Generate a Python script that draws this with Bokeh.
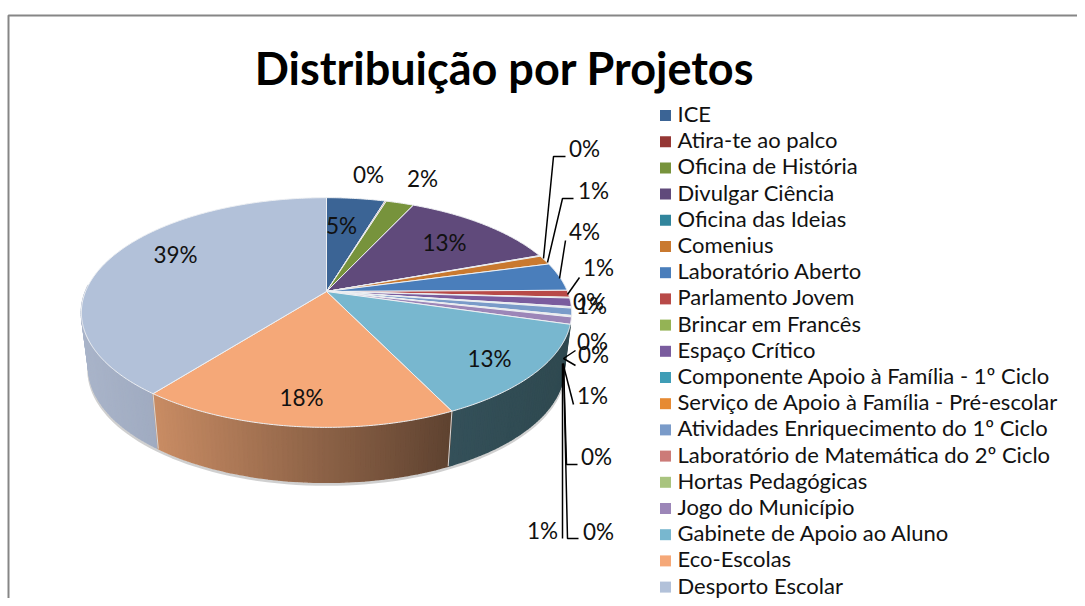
import math
from bokeh.plotting import figure
from bokeh.embed import file_html
from bokeh.resources import INLINE
from bokeh.core.properties import value

title = "Distribuição por Projetos"
categories = ["ICE", "Atira-te ao palco", "Oficina de História", "Divulgar Ciência", "Oficina das Ideias",
              "Comenius", "Laboratório Aberto", "Parlamento Jovem", "Brincar em Francês", "Espaço Crítico",
              "Componente Apoio à Família - 1º Ciclo", "Serviço de Apoio à Família - Pré-escolar",
              "Atividades Enriquecimento do 1º Ciclo", "Laboratório de Matemática do 2º Ciclo",
              "Hortas Pedagógicas", "Jogo do Município", "Gabinete de Apoio ao Aluno", "Eco-Escolas",
              "Desporto Escolar"]
values = [4.6, 0.1, 2.2, 12.5, 0.1, 1.3, 4.0, 1.0, 0.1, 1.2, 0.1, 0.1, 1.0, 0.1, 0.1, 1.0, 13.3, 17.7, 39.4]
labels = ["5%", "0%", "2%", "13%", "0%", "1%", "4%", "1%", "0%", "1%", "0%", "0%", "1%", "0%", "0%", "1%", "13%", "18%", "39%"]
colors = ["#3b6495", "#953735", "#77933c", "#604a7b", "#31859c", "#c9792f", "#4a7ebb", "#b84a48", "#94b355",
          "#7a5c9e", "#3f9db6", "#e68a32", "#7a9bc9", "#cc7b78", "#a9c47f", "#9c86b8", "#78b7cf", "#f5a878", "#b2c1d9"]
# side shading (left end, right end) for the slices whose rim faces the viewer
side_shades = {16: ("#345059", "#2f4950"), 17: ("#c98c64", "#5e4230"), 18: ("#a9b4c9", "#8a96ad")}

label_x = [341, 368, 422, 444, 584, 593, 584, 598, 588, 591, 592, 593, 592, 596, 598, 542, 489, 301, 175]
label_y = [225, 174, 178, 242, 148, 190, 231, 267, 301, 305, 341, 354, 395, 456, 531, 530, 358, 397, 254]
leaders = [[(565, 156), (553, 156), (543, 258)], [(573, 198), (562, 198), (547, 262)], [(565, 240), (559, 278)],
           [(579, 277), (567, 294)], [(575, 350), (563, 358), (575, 365)], [(573, 404), (563, 365)],
           [(577, 464), (566, 464), (563, 363)], [(578, 538), (567, 538), (563, 363)], [(562, 538), (562, 363)]]

CX, CY, BX, AY, K, DEPTH, SHRINK = 326, 291, 241, 111, 0.183, 55, 0.97
FONT = "Lato"


def project(deg):
    X, Y = math.sin(math.radians(deg)), -math.cos(math.radians(deg))
    d = 1 - K * Y
    return CX + BX * X / d, CY + AY * Y / d, Y


def low(x, y):
    return CX + (x - CX) * SHRINK, y + DEPTH


def mix(a, b, f):
    ca = [int(a[i:i + 2], 16) for i in (1, 3, 5)]
    cb = [int(b[i:i + 2], 16) for i in (1, 3, 5)]
    return "#%02x%02x%02x" % tuple(round(p + (q - p) * f) for p, q in zip(ca, cb))


p = figure(width=1077, height=598, x_range=(0, 1077), y_range=(598, 0), output_backend="svg",
           toolbar_location=None, min_border=0, outline_line_color=None, background_fill_color="white")
p.axis.visible = False
p.grid.visible = False

p.line([8, 8, 1077], [598, 15, 15], line_color="#868686", line_width=2)

total = sum(values)
angles = [0]
for v in values:
    angles.append(angles[-1] + v * 360 / total)

# shadow under the rim
sa = [project(a) for a in range(int(angles[16]), 361, 2) if project(a)[2] > -0.05]
sl = [low(q[0], q[1]) for q in sa]
p.line([q[0] for q in sl], [q[1] + 2 for q in sl], line_color="#c4c4c4", line_width=3, line_alpha=0.8)

# sides
quads = []
for i, (lc, rc) in side_shades.items():
    a0, a1 = angles[i], angles[i + 1]
    n = max(2, int(a1 - a0))
    xs_slice = [project(a0 + (a1 - a0) * j / n)[0] for j in range(n + 1)]
    xmin, xmax = min(xs_slice), max(xs_slice)
    for j in range(n):
        t0, t1 = a0 + (a1 - a0) * j / n, a0 + (a1 - a0) * (j + 1) / n
        x0, y0, Y0 = project(t0)
        x1, y1, Y1 = project(t1)
        if max(Y0, Y1) < -0.05:
            continue
        lx0, ly0 = low(x0, y0)
        lx1, ly1 = low(x1, y1)
        f = ((x0 + x1) / 2 - xmin) / (xmax - xmin)
        quads.append((min(Y0, Y1), [x0, x1, lx1, lx0], [y0, y1, ly1, ly0], mix(lc, rc, f)))
quads.sort(key=lambda q: q[0])
p.patches([q[1] for q in quads], [q[2] for q in quads], fill_color=[q[3] for q in quads],
          line_color=[q[3] for q in quads], line_width=1.5)
for a in (angles[17], angles[18]):
    x, y, _ = project(a)
    lx, ly = low(x, y)
    p.line([x, lx], [y, ly], line_color="#d8d8d8", line_width=1)

# top faces
for i, c in enumerate(colors):
    a0, a1 = angles[i], angles[i + 1]
    n = max(2, int((a1 - a0) * 2))
    pts = [project(a0 + (a1 - a0) * j / n) for j in range(n + 1)]
    p.patch([CX] + [q[0] for q in pts], [CY] + [q[1] for q in pts], fill_color=c,
            line_color="#eef0f3", line_width=1)

# leader lines
for seg in leaders:
    p.line([q[0] for q in seg], [q[1] for q in seg], line_color="black", line_width=1.5)

# data labels
p.text(label_x, label_y, text=labels, text_font=value(FONT), text_font_size="22.5px", text_color="#111111",
       text_align="center", text_baseline="middle")

# legend
legend_y = [115 + 26.2 * i for i in range(len(categories))]
p.scatter([665] * len(categories), legend_y, marker="square", size=11, fill_color=colors, line_color=None)
p.text([677] * len(categories), [y - 2 for y in legend_y], text=categories, text_font=value(FONT),
       text_font_size="22px", text_color="#111111", text_align="left", text_baseline="middle")

p.text([504], [67], text=[title], text_font=value(FONT), text_font_size="45px", text_font_style="bold",
       text_color="black", text_align="center", text_baseline="middle")

open("out.html", "w").write(file_html(p, INLINE))
